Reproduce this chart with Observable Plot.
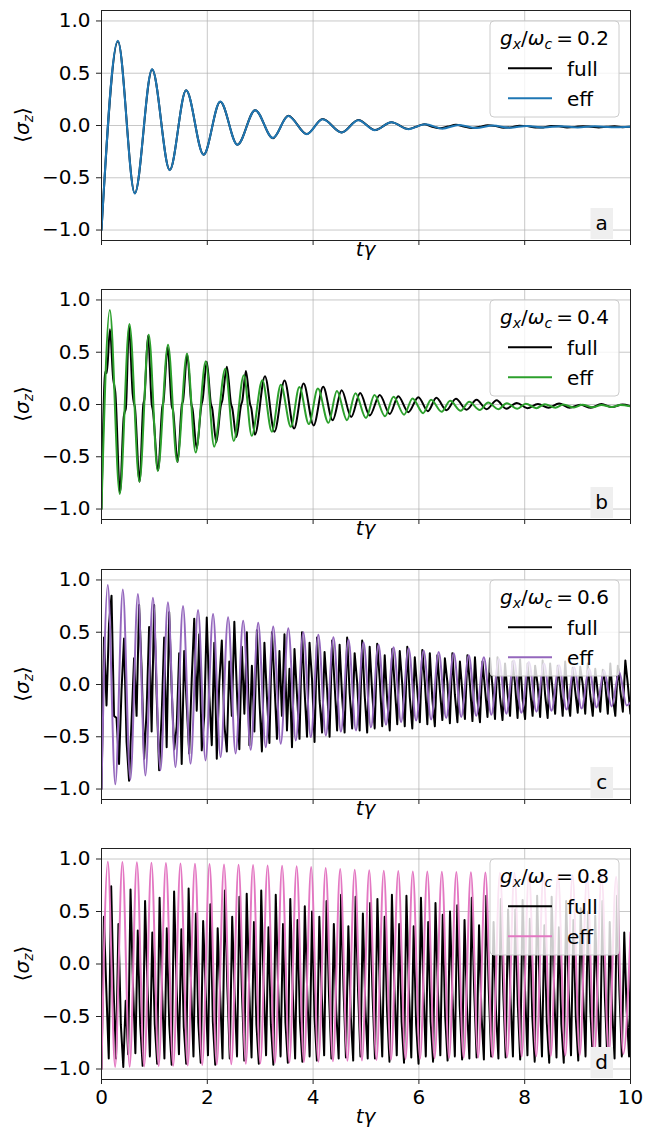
<!DOCTYPE html>
<html><head><meta charset="utf-8">
<script src="https://cdn.jsdelivr.net/npm/d3@7"></script>
<script src="https://cdn.jsdelivr.net/npm/@observablehq/plot@0.6"></script>
<style>
html,body{margin:0;padding:0;background:#fff;}
#root{width:654px;height:1129px;overflow:hidden;}
#root svg{display:block;}
</style></head><body><div id="root"></div>
<script>
// ---- tick labels / categories ----
const xTicks = [0, 2, 4, 6, 8, 10];
const yTicks = [-1, -0.5, 0, 0.5, 1];
const panelLetters = ["a", "b", "c", "d"];
const couplings = ["0.2", "0.4", "0.6", "0.8"];
const seriesNames = ["full", "eff"];
const effColors = ["#1f77b4", "#2ca02c", "#9467bd", "#e377c2"];
const fullColor = "#000000";

// ---- panel a (g/wc = 0.2): [t, <sigma_z>] ----
const effA = [[0,-1.0],[0.308,0.81],[0.629,-0.65],[0.956,0.538],[1.29,-0.427],[1.60,0.338],[1.93,-0.28],[2.245,0.229],[2.57,-0.185],[2.905,0.146],[3.24,-0.12],[3.53,0.092],[3.88,-0.083],[4.18,0.06],[4.54,-0.067],[4.855,0.05],[5.17,-0.045],[5.48,0.03],[5.80,-0.035],[6.12,0.012],[6.44,-0.03],[6.76,0.005],[7.08,-0.025],[7.40,0.0],[7.72,-0.022],[8.04,-0.004],[8.36,-0.02],[8.68,-0.006],[9.0,-0.018],[9.32,-0.008],[9.64,-0.017],[10,-0.012]];
const fullA = [[0,-1.0],[0.31,0.805],[0.63,-0.648],[0.957,0.536],[1.29,-0.425],[1.60,0.336],[1.93,-0.279],[2.245,0.228],[2.57,-0.184],[2.905,0.147],[3.24,-0.121],[3.53,0.093],[3.88,-0.082],[4.18,0.062],[4.54,-0.066],[4.855,0.052],[5.17,-0.044],[5.48,0.032],[5.80,-0.034],[5.95,-0.012],[6.1,0.012],[6.25,-0.012],[6.4,-0.026],[6.55,-0.01],[6.7,0.006],[6.85,-0.01],[7.0,-0.024],[7.15,-0.012],[7.3,0.002],[7.45,-0.006],[7.6,-0.022],[7.75,-0.016],[7.9,-0.002],[8.05,-0.006],[8.2,-0.02],[8.35,-0.018],[8.5,-0.004],[8.65,-0.008],[8.8,-0.018],[8.95,-0.014],[9.1,-0.006],[9.25,-0.011],[9.4,-0.018],[9.55,-0.012],[9.7,-0.008],[9.85,-0.016],[10,-0.012]];

// ---- panel b (g/wc = 0.4) ----
const effB = [[0,-1.0],[0.157,0.905],[0.345,-0.857],[0.528,0.771],[0.717,-0.737],[0.893,0.667],[1.063,-0.635],[1.258,0.571],[1.43,-0.546],[1.616,0.486],[1.78,-0.46],[1.97,0.413],[2.13,-0.403],[2.34,0.343],[2.50,-0.349],[2.69,0.279],[2.84,-0.30],[3.04,0.232],[3.22,-0.26],[3.39,0.19],[3.58,-0.213],[3.74,0.168],[3.92,-0.187],[4.09,0.152],[4.29,-0.175],[4.45,0.13],[4.64,-0.15],[4.80,0.108],[5.0,-0.13],[5.16,0.09],[5.36,-0.113],[5.52,0.073],[5.72,-0.097],[5.88,0.058],[6.08,-0.083],[6.23,0.045],[6.43,-0.07],[6.59,0.035],[6.79,-0.06],[6.95,0.026],[7.15,-0.052],[7.31,0.018],[7.50,-0.045],[7.66,0.012],[7.86,-0.04],[8.02,0.007],[8.22,-0.035],[8.38,0.003],[8.58,-0.031],[8.73,0.0],[8.93,-0.028],[9.09,-0.002],[9.29,-0.026],[9.45,-0.004],[9.65,-0.024],[9.81,-0.005],[10,-0.018]];
const fullB = [[0,-1.0],[0.06,0.25],[0.08,0.32],[0.10,0.30],[0.16,0.72],[0.22,0.25],[0.245,0.17],[0.26,0.12],[0.35,-0.84],[0.42,-0.12],[0.44,-0.07],[0.46,-0.04],[0.52,0.75],[0.59,0.1],[0.61,0.02],[0.63,-0.02],[0.72,-0.74],[0.79,0.0],[0.81,0.05],[0.88,0.66],[0.95,0.0],[0.97,-0.05],[1.07,-0.63],[1.15,-0.02],[1.17,0.02],[1.25,0.55],[1.33,-0.02],[1.35,-0.05],[1.44,-0.55],[1.52,0.0],[1.54,0.03],[1.62,0.48],[1.70,0.0],[1.72,-0.04],[1.80,-0.42],[1.89,0.0],[1.91,0.04],[1.99,0.41],[2.07,0.0],[2.09,-0.03],[2.17,-0.36],[2.26,0.0],[2.28,0.03],[2.37,0.36],[2.45,0.0],[2.47,-0.03],[2.55,-0.31],[2.64,0.0],[2.66,0.03],[2.73,0.32],[2.81,0.0],[2.83,-0.03],[2.90,-0.29],[3.09,0.27],[3.27,-0.26],[3.46,0.23],[3.64,-0.23],[3.82,0.20],[4.01,-0.20],[4.19,0.17],[4.37,-0.15],[4.54,0.137],[4.72,-0.12],[4.89,0.11],[5.07,-0.105],[5.26,0.09],[5.45,-0.09],[5.61,0.08],[5.80,-0.073],[5.99,0.07],[6.17,-0.064],[6.33,0.064],[6.52,-0.055],[6.70,0.054],[6.90,-0.05],[7.09,0.045],[7.28,-0.045],[7.47,0.04],[7.65,-0.04],[7.85,0.015],[8.05,-0.035],[8.25,0.005],[8.45,-0.03],[8.65,0.01],[8.85,-0.03],[9.05,-0.002],[9.25,-0.032],[9.45,0.005],[9.65,-0.025],[9.85,0.0],[10,-0.015]];

// ---- panel c (g/wc = 0.6) ----
const effC = [[0,-1.0],[0.119,0.952],[0.261,-0.955],[0.403,0.908],[0.545,-0.91],[0.688,0.866],[0.830,-0.87],[0.972,0.83],[1.114,-0.82],[1.256,0.787],[1.398,-0.79],[1.541,0.75],[1.683,-0.758],[1.825,0.713],[1.967,-0.726],[2.109,0.675],[2.251,-0.694],[2.393,0.643],[2.535,-0.66],[2.678,0.61],[2.820,-0.624],[2.962,0.59],[3.104,-0.60],[3.246,0.554],[3.388,-0.567],[3.531,0.538],[3.673,-0.535],[3.815,0.50],[3.957,-0.503],[4.099,0.475],[4.241,-0.487],[4.384,0.452],[4.526,-0.45],[4.668,0.43],[4.810,-0.44],[4.952,0.405],[5.094,-0.41],[5.236,0.38],[5.378,-0.385],[5.521,0.357],[5.663,-0.36],[5.805,0.347],[5.947,-0.344],[6.089,0.325],[6.231,-0.334],[6.374,0.31],[6.516,-0.32],[6.658,0.30],[6.800,-0.31],[6.942,0.28],[7.084,-0.30],[7.227,0.26],[7.369,-0.29],[7.511,0.245],[7.653,-0.28],[7.795,0.23],[7.937,-0.27],[8.079,0.215],[8.222,-0.26],[8.364,0.20],[8.506,-0.25],[8.648,0.185],[8.790,-0.24],[8.932,0.165],[9.075,-0.23],[9.217,0.15],[9.359,-0.22],[9.501,0.135],[9.643,-0.21],[9.785,0.12],[9.927,-0.20],[10,-0.17]];
// full c: values sampled every fullCStep in t
const fullCStep = 0.04738;
const fullC = [
-1.00, 0.45, -0.20, 0.58, 0.85, -0.30,
-0.32, -0.76, -0.05, 0.44, -0.55, -0.92,
-0.35, 0.25, -0.30, 0.76, 0.15, -0.71,
-0.25, 0.55, -0.45, 0.76, -0.10, -0.82,
-0.30, 0.45, -0.60, 0.69, -0.05, -0.62,
-0.40, 0.30, -0.76, 0.32, -0.20, -0.66,
0.05, 0.63, -0.25, 0.48, -0.63, -0.30,
0.64, -0.10, -0.58, 0.40, -0.71, 0.02,
0.42, -0.38, -0.64, 0.22, -0.30, 0.60,
-0.05, -0.62, 0.36, -0.28, 0.50, -0.58,
0.18, -0.45, 0.52, -0.15, -0.64, 0.40,
-0.12, -0.56, 0.50, 0.02, -0.52, 0.32,
-0.30, 0.48, -0.44, 0.15, -0.60, 0.34,
-0.10, -0.52, 0.50, -0.05, -0.50, 0.40,
0.05, -0.55, 0.45, -0.15, -0.46, 0.31,
-0.05, -0.50, 0.42, 0.00, -0.44, 0.38,
-0.12, -0.46, 0.45, -0.08, -0.42, 0.30,
0.02, -0.44, 0.42, -0.10, -0.46, 0.36,
-0.08, -0.42, 0.39, 0.05, -0.40, 0.28,
-0.15, -0.44, 0.34, -0.02, -0.38, 0.32,
0.00, -0.40, 0.36, -0.12, -0.42, 0.26,
-0.06, -0.36, 0.33, 0.02, -0.38, 0.30,
-0.14, -0.40, 0.28, -0.05, -0.34, 0.25,
0.02, -0.37, 0.30, -0.10, -0.36, 0.22,
-0.08, -0.33, 0.28, 0.00, -0.35, 0.26,
-0.15, -0.36, 0.22, -0.04, -0.31, 0.25,
-0.02, -0.33, 0.26, -0.12, -0.34, 0.20,
-0.08, -0.30, 0.22, 0.00, -0.32, 0.24,
-0.14, -0.33, 0.20, -0.05, -0.30, 0.18,
0.00, -0.31, 0.23, -0.10, -0.32, 0.20,
-0.06, -0.28, 0.18, -0.02, -0.30, 0.22,
-0.12, -0.30, 0.16, -0.06, -0.27, 0.17,
0.00, -0.28, 0.20, -0.10, -0.30, 0.15,
-0.08, -0.26, 0.14, 0.00, -0.28, 0.20,
-0.12, -0.30, 0.18, -0.06, -0.26, 0.23,
0.00, -0.28, 0.12, -0.08, -0.25, 0.15
];

// ---- panel d (g/wc = 0.8) ----
const effD = [[0,-1.0],[0.120,0.975],[0.257,-0.980],[0.395,0.972],[0.532,-0.978],[0.669,0.968],[0.806,-0.975],[0.944,0.965],[1.081,-0.972],[1.218,0.962],[1.355,-0.970],[1.493,0.958],[1.630,-0.966],[1.767,0.955],[1.904,-0.962],[2.042,0.952],[2.179,-0.958],[2.316,0.948],[2.453,-0.955],[2.591,0.945],[2.728,-0.950],[2.865,0.942],[3.002,-0.946],[3.140,0.938],[3.277,-0.942],[3.414,0.935],[3.551,-0.938],[3.689,0.930],[3.826,-0.934],[3.963,0.925],[4.100,-0.930],[4.238,0.915],[4.375,-0.926],[4.512,0.905],[4.649,-0.922],[4.787,0.898],[4.924,-0.918],[5.061,0.892],[5.198,-0.914],[5.336,0.888],[5.473,-0.910],[5.610,0.885],[5.747,-0.906],[5.885,0.882],[6.022,-0.902],[6.159,0.880],[6.296,-0.898],[6.434,0.878],[6.571,-0.895],[6.708,0.876],[6.845,-0.892],[6.983,0.874],[7.120,-0.890],[7.257,0.872],[7.394,-0.888],[7.532,0.870],[7.669,-0.885],[7.806,0.866],[7.943,-0.882],[8.081,0.862],[8.218,-0.879],[8.355,0.858],[8.492,-0.876],[8.630,0.852],[8.767,-0.872],[8.904,0.846],[9.041,-0.868],[9.179,0.840],[9.316,-0.864],[9.453,0.835],[9.590,-0.860],[9.728,0.830],[9.865,-0.856],[10,0.30]];
// full d: values sampled every fullDStep in t
const fullDStep = 0.04575;
const fullD = [
-1.00, 0.45, -0.25, -0.90, 0.74, -0.25,
-0.90, 0.38, -0.58, -0.98, -0.35, -0.86,
0.71, -0.20, -0.85, 0.32, -0.58, -0.97,
0.60, -0.22, -0.88, 0.30, -0.57, -0.95,
0.63, -0.24, -0.90, 0.34, -0.58, -0.96,
0.69, -0.20, -0.86, 0.33, -0.60, -0.95,
0.72, -0.22, -0.88, 0.48, -0.56, -0.94,
0.41, -0.25, -0.87, 0.57, -0.55, -0.96,
0.34, -0.27, -0.90, 0.70, -0.22, -0.90,
0.45, -0.30, -0.88, 0.64, -0.25, -0.92,
0.67, -0.22, -0.89, 0.40, -0.57, -0.95,
0.70, -0.20, -0.87, 0.35, -0.58, -0.96,
0.66, -0.23, -0.88, 0.38, -0.56, -0.94,
0.62, -0.24, -0.90, 0.42, -0.55, -0.93,
0.55, -0.26, -0.88, 0.50, -0.50, -0.92,
0.45, -0.28, -0.87, 0.60, -0.30, -0.90,
0.38, -0.45, -0.90, 0.66, -0.24, -0.89,
0.36, -0.50, -0.92, 0.64, -0.25, -0.88,
0.48, -0.40, -0.90, 0.58, -0.30, -0.90,
0.62, -0.25, -0.88, 0.45, -0.45, -0.93,
0.66, -0.22, -0.87, 0.38, -0.55, -0.94,
0.65, -0.23, -0.89, 0.36, -0.57, -0.95,
0.63, -0.24, -0.88, 0.40, -0.55, -0.93,
0.58, -0.26, -0.87, 0.47, -0.50, -0.92,
0.50, -0.30, -0.88, 0.56, -0.40, -0.91,
0.42, -0.40, -0.90, 0.63, -0.27, -0.89,
0.37, -0.48, -0.91, 0.65, -0.24, -0.88,
0.40, -0.45, -0.90, 0.62, -0.27, -0.89,
0.52, -0.33, -0.88, 0.52, -0.38, -0.91,
0.61, -0.25, -0.87, 0.43, -0.50, -0.93,
0.65, -0.22, -0.88, 0.37, -0.56, -0.94,
0.64, -0.23, -0.89, 0.35, -0.57, -0.94,
0.60, -0.25, -0.87, 0.42, -0.52, -0.92,
0.53, -0.30, -0.88, 0.50, -0.45, -0.91,
0.46, -0.36, -0.89, 0.60, -0.32, -0.90,
0.40, -0.44, -0.90, 0.65, -0.26, -0.88,
0.30, -0.45, -0.88, 0.62, -0.30, -0.87
];

// ---- build tables ----
const pairs = arr => arr.map(([t, v]) => ({t, v}));
const sampled = (arr, step) => arr.map((v, i) => ({t: i * step, v}));
const panels = [
  {full: pairs(fullA), eff: pairs(effA), fullCurve: "monotone-x"},
  {full: pairs(fullB), eff: pairs(effB), fullCurve: "monotone-x"},
  {full: sampled(fullC, fullCStep), eff: pairs(effC), fullCurve: "linear"},
  {full: sampled(fullD, fullDStep), eff: pairs(effD), fullCurve: "linear"}
];
const heights = [279, 280, 279, 291];
const marginBottoms = [39, 40, 39, 50];
const fmtY = d3.format(".1f");
const FONT = "DejaVu Sans";
const root = document.getElementById("root");

panels.forEach((p, i) => {
  const last = i === panels.length - 1;
  const chart = Plot.plot({
    width: 654, height: heights[i],
    marginLeft: 101, marginRight: 24, marginTop: 10, marginBottom: marginBottoms[i],
    style: {fontFamily: FONT, fontSize: "20px", background: "#fff", color: "#000", overflow: "visible"},
    x: {domain: [0, 10]},
    y: {domain: [-1.1, 1.1]},
    marks: [
      Plot.gridX(xTicks, {stroke: "#b0b0b0", strokeOpacity: 0.7, strokeWidth: 1}),
      Plot.gridY(yTicks, {stroke: "#b0b0b0", strokeOpacity: 0.7, strokeWidth: 1}),
      Plot.line(p.full, {x: "t", y: "v", stroke: fullColor, strokeWidth: 2, curve: p.fullCurve, clip: true}),
      Plot.line(p.eff, {x: "t", y: "v", stroke: effColors[i], strokeWidth: 2, curve: "monotone-x", clip: true}),
      Plot.frame({stroke: "#222", strokeWidth: 1}),
      Plot.axisX(xTicks, {tickSize: 5, tickPadding: 5, stroke: "#222", tickFormat: last ? (d => String(d)) : (() => ""), label: null}),
      Plot.axisY(yTicks, {tickSize: 5, tickPadding: 6, stroke: "#222", tickFormat: fmtY, label: null})
    ]
  });
  root.appendChild(chart);

  const svg = d3.select(chart);
  const xs = chart.scale("x"), ys = chart.scale("y");
  const L = xs.apply(0), R = xs.apply(10), T = ys.apply(1.1), B = ys.apply(-1.1);

  // y label <sigma_z>
  const yl = svg.append("text")
    .attr("transform", `translate(22,${(T + B) / 2}) rotate(-90)`)
    .attr("text-anchor", "middle").attr("dy", "0.35em")
    .attr("font-family", FONT).attr("font-size", 20).attr("fill", "#000");
  yl.append("tspan").text("\u27E8");
  yl.append("tspan").attr("font-style", "italic").text("\u03C3");
  yl.append("tspan").attr("font-style", "italic").attr("font-size", 14).attr("dy", 4).text("z");
  yl.append("tspan").attr("dy", -4).text("\u27E9");

  // x label t gamma
  svg.append("text")
    .attr("x", (L + R) / 2).attr("y", B + (last ? 44 : 16))
    .attr("text-anchor", "middle").attr("font-family", FONT).attr("font-size", 20)
    .attr("font-style", "italic").attr("fill", "#000").text("t\u03B3");

  // legend
  const lg = svg.append("g");
  lg.append("rect").attr("x", R - 140).attr("y", T + 11).attr("width", 129).attr("height", 96)
    .attr("rx", 4).attr("fill", "#fff").attr("fill-opacity", 0.8).attr("stroke", "#cccccc").attr("stroke-width", 1);
  const tt = lg.append("text").attr("x", R - 75.5).attr("y", T + 35).attr("text-anchor", "middle")
    .attr("font-family", FONT).attr("font-size", 20).attr("fill", "#000");
  tt.append("tspan").attr("font-style", "italic").text("g");
  tt.append("tspan").attr("font-style", "italic").attr("font-size", 14).attr("dy", 4).text("x");
  tt.append("tspan").attr("dy", -4).text("/");
  tt.append("tspan").attr("font-style", "italic").text("\u03C9");
  tt.append("tspan").attr("font-style", "italic").attr("font-size", 14).attr("dy", 4).text("c");
  tt.append("tspan").attr("dy", -4).text("\u2009=\u2009" + couplings[i]);
  const rowCols = [fullColor, effColors[i]];
  seriesNames.forEach((name, k) => {
    const yy = T + 58.3 + 30 * k;
    lg.append("line").attr("x1", R - 122).attr("x2", R - 78).attr("y1", yy).attr("y2", yy)
      .attr("stroke", rowCols[k]).attr("stroke-width", 2);
    lg.append("text").attr("x", R - 63).attr("y", yy + 7.5).attr("text-anchor", "start")
      .attr("font-family", FONT).attr("font-size", 20).attr("fill", "#000").text(name);
  });

  // panel letter
  svg.append("rect").attr("x", R - 39.5).attr("y", B - 32).attr("width", 22.5).attr("height", 31)
    .attr("fill", "#efefef");
  svg.append("text").attr("x", R - 28.3).attr("y", B - 10).attr("text-anchor", "middle")
    .attr("font-family", FONT).attr("font-size", 20).attr("fill", "#000").text(panelLetters[i]);
});
</script></body></html>
